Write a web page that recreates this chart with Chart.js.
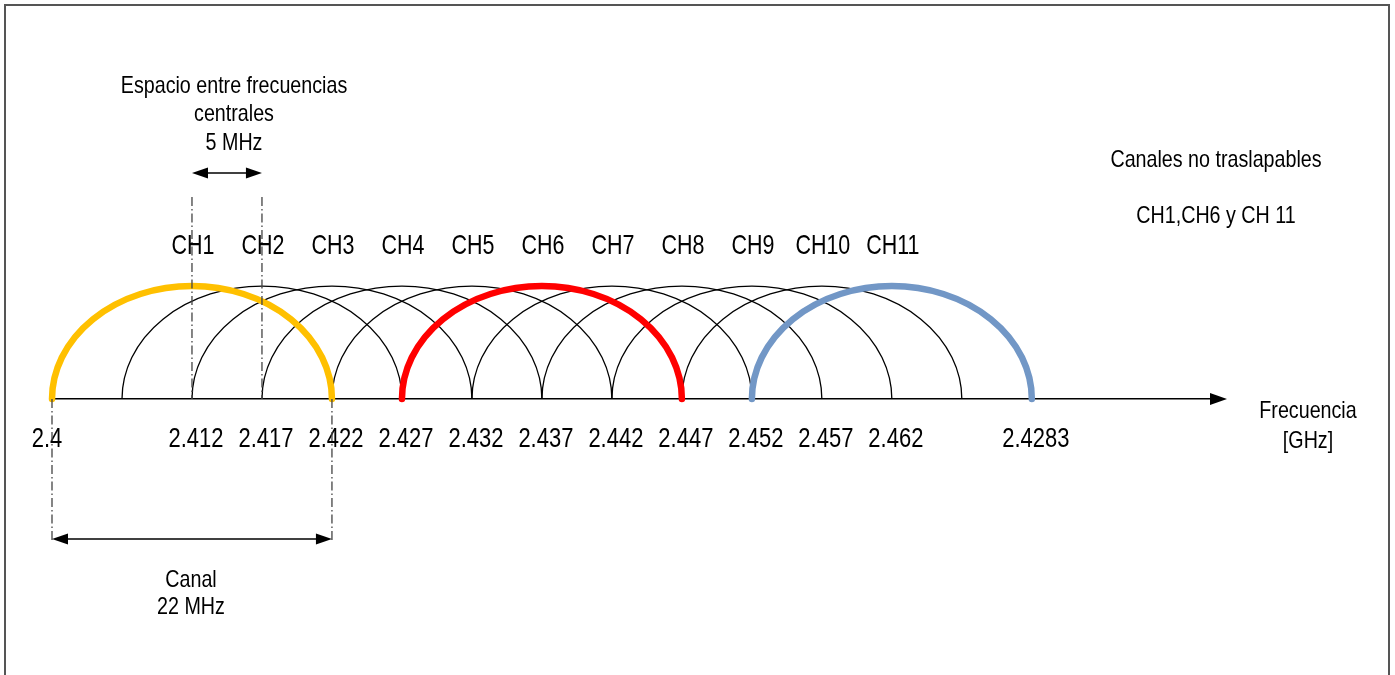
<!DOCTYPE html>
<html><head><meta charset="utf-8">
<script src="https://cdn.jsdelivr.net/npm/chart.js@4"></script>
<style>html,body{margin:0;padding:0;background:#fff;overflow:hidden}canvas{display:block}</style>
</head><body>
<canvas id="c" width="1395" height="675"></canvas>
<script>
// ---- data ----
const channelNames = ['CH1','CH2','CH3','CH4','CH5','CH6','CH7','CH8','CH9','CH10','CH11'];
const channelCenters = [2412,2417,2422,2427,2432,2437,2442,2447,2452,2457,2462]; // diagram units (MHz)
const lobeHalfWidth = 10;
const lobeHeight = 1;
const nonOverlapping = ['CH1','CH6','CH11'];
const tickValues = [2402,2412,2417,2422,2427,2432,2437,2442,2447,2452,2457,2462,2472];
const tickLabels = ['2.4','2.412','2.417','2.422','2.427','2.432','2.437','2.442','2.447','2.452','2.457','2.462','2.4283'];

// ---- styles ----
const FAMILY = "'Liberation Sans Narrow', 'Arial Narrow', 'Liberation Sans', Arial, sans-serif";
const NARROW = 0.82; // horizontal condensation to emulate a narrow face
const highlightColors = {CH1:'#FFC000', CH6:'#FF0000', CH11:'#7297C6'};

function arrowHead(ctx, x, y, dir, len, half){
  ctx.beginPath();
  ctx.moveTo(x, y);
  ctx.lineTo(x - dir*len, y - half);
  ctx.lineTo(x - dir*len, y + half);
  ctx.closePath();
  ctx.fill();
}
function dblArrow(ctx, x1, x2, y){
  ctx.save();
  ctx.strokeStyle = '#000'; ctx.fillStyle = '#000'; ctx.lineWidth = 1.5;
  ctx.beginPath(); ctx.moveTo(x1 + 10, y); ctx.lineTo(x2 - 10, y); ctx.stroke();
  arrowHead(ctx, x1, y, -1, 16, 5.5);
  arrowHead(ctx, x2, y, 1, 16, 5.5);
  ctx.restore();
}
function dashDot(ctx, x, y1, y2){
  ctx.save();
  ctx.strokeStyle = '#444'; ctx.lineWidth = 1.3;
  ctx.setLineDash([9,3,1.5,3]);
  ctx.beginPath(); ctx.moveTo(x, y1); ctx.lineTo(x, y2); ctx.stroke();
  ctx.restore();
}
let narrowAvailable = false;
function text(ctx, s, x, y, size, sx){
  ctx.save();
  ctx.font = size + 'px ' + FAMILY;
  ctx.fillStyle = '#000';
  ctx.textAlign = 'center';
  ctx.textBaseline = 'middle';
  ctx.translate(x, y);
  if (!narrowAvailable) ctx.scale(sx || NARROW, 1);
  ctx.fillText(s, 0, 0);
  ctx.restore();
}
(function detect(){
  const c = document.createElement('canvas').getContext('2d');
  c.font = "40px 'Liberation Sans Narrow', monospace";
  const a = c.measureText('Espacio entre').width;
  c.font = "40px monospace";
  const b = c.measureText('Espacio entre').width;
  narrowAvailable = Math.abs(a - b) > 1;
})();

const diagramPlugin = {
  id: 'diagram',
  afterDatasetsDraw(chart){
    const ctx = chart.ctx, xs = chart.scales.x, ys = chart.scales.y;
    const y0 = ys.getPixelForValue(0);
    const ry = y0 - ys.getPixelForValue(lobeHeight);
    const pts = chart.data.datasets[0].data;
    const drawLobe = (i) => {
      const cx = xs.getPixelForValue(pts[i].x);
      const rx = xs.getPixelForValue(pts[i].x + lobeHalfWidth) - cx;
      ctx.beginPath();
      ctx.ellipse(cx, y0, rx, ry, 0, Math.PI, 2*Math.PI);
      ctx.stroke();
    };
    ctx.save();
    ctx.strokeStyle = '#000'; ctx.lineWidth = 1.3;
    channelNames.forEach((n,i) => { if (!nonOverlapping.includes(n)) drawLobe(i); });
    ctx.lineWidth = 6.5; ctx.lineCap = 'round';
    channelNames.forEach((n,i) => { if (nonOverlapping.includes(n)) { ctx.strokeStyle = highlightColors[n]; drawLobe(i); } });
    ctx.restore();
  },
  afterDraw(chart){
    const ctx = chart.ctx, xs = chart.scales.x, ys = chart.scales.y;
    const y0 = ys.getPixelForValue(0);
    const px = v => xs.getPixelForValue(v);
    // frame
    ctx.save();
    ctx.strokeStyle = '#555'; ctx.lineWidth = 2;
    ctx.beginPath(); ctx.moveTo(5, 675); ctx.lineTo(5, 5); ctx.lineTo(1389, 5); ctx.lineTo(1389, 675); ctx.stroke();
    ctx.restore();
    // axis arrow head
    ctx.save(); ctx.fillStyle = '#000';
    arrowHead(ctx, chart.chartArea.right + 16, y0, 1, 17, 6);
    ctx.restore();
    // axis tick labels (from the x scale's ticks)
    xs.ticks.forEach((t, i) => {
      const lab = (t.label !== undefined && t.label !== '') ? t.label : tickLabels[i];
      const off = i === 0 ? -5 : 4;
      text(ctx, lab, xs.getPixelForValue(t.value) + off, 439, 27.5, 0.8);
    });
    // dash-dot guides
    const c1 = px(channelCenters[0]), c2 = px(channelCenters[1]);
    dashDot(ctx, c1, 197, y0);
    dashDot(ctx, c2, 197, y0);
    const l = px(channelCenters[0] - lobeHalfWidth), r = px(channelCenters[0] + lobeHalfWidth);
    dashDot(ctx, l, y0, 540);
    dashDot(ctx, r, y0, 540);
    // arrows
    dblArrow(ctx, c1, c2, 173);
    dblArrow(ctx, l, r, 539);
    // texts
    text(ctx, 'Espacio entre frecuencias', 234, 86, 24);
    text(ctx, 'centrales', 234, 114, 24);
    text(ctx, '5 MHz', 234, 143, 24);
    channelNames.forEach((n,i) => text(ctx, n, px(channelCenters[i]) + 1, 246, 27.5, 0.78));
    text(ctx, 'Canales no traslapables', 1216, 160, 24);
    text(ctx, 'CH1,CH6 y CH 11', 1216, 216, 24);
    text(ctx, 'Canal', 191, 580, 24);
    text(ctx, '22 MHz', 191, 607, 24);
    text(ctx, 'Frecuencia', 1308, 411, 24);
    text(ctx, '[GHz]', 1308, 441, 24);
  }
};

const xMin = 2402, xMax = 2484.8;
new Chart(document.getElementById('c'), {
  type: 'scatter',
  data: { datasets: [{
    label: 'Canales',
    data: channelCenters.map(c => ({x: c, y: lobeHeight})),
    pointRadius: 0, showLine: false
  }]},
  options: {
    responsive: false, animation: false, devicePixelRatio: 1,
    layout: { padding: { left: 52, right: 184, top: 0, bottom: 0 } },
    plugins: { legend: { display: false }, tooltip: { enabled: false } },
    scales: {
      x: {
        type: 'linear', min: xMin, max: xMax, position: { y: 0 },
        grid: { display: false, drawTicks: false },
        border: { display: true, color: '#000', width: 1.6 },
        afterBuildTicks: s => { s.ticks = tickValues.map(v => ({ value: v })); },
        ticks: {
          display: false, autoSkip: false, maxRotation: 0, minRotation: 0,
          callback: (v, i) => tickLabels[i]
        }
      },
      y: { type: 'linear', min: -2.44, max: 3.53, display: false }
    }
  },
  plugins: [diagramPlugin]
});
</script>
</body></html>
